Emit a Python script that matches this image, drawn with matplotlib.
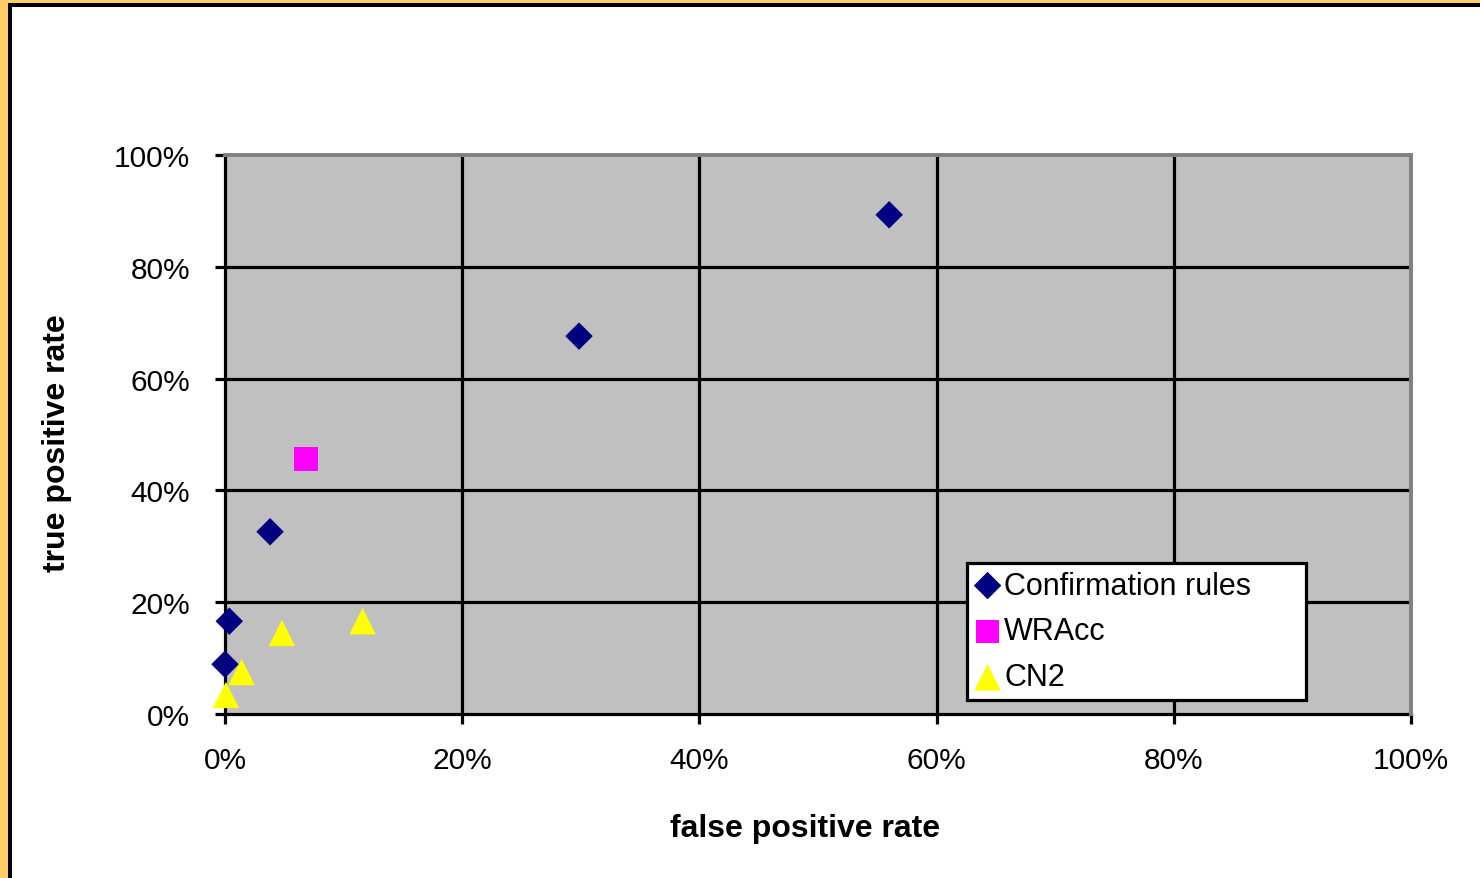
import matplotlib
matplotlib.use("Agg")
import matplotlib.pyplot as plt
from matplotlib.patches import Rectangle
from matplotlib.ticker import FuncFormatter

plt.rcParams['font.family'] = ['Liberation Sans', 'DejaVu Sans']

# Data (percent)
conf_fpr = [56.0, 29.85, 3.8, 0.36, 0.0]
conf_tpr = [89.3, 67.6, 32.6, 16.6, 8.9]
wracc_fpr = [6.85]
wracc_tpr = [45.6]
cn2_fpr = [0.08, 1.4, 4.8, 11.6]
cn2_tpr = [3.4, 7.5, 14.5, 16.6]
ticks = [0, 20, 40, 60, 80, 100]

W, H = 1480, 879
fig = plt.figure(figsize=(W / 100, H / 100), dpi=100)
fig.patch.set_facecolor('white')

# frame decorations (orange + black border on top and left)
fig.add_artist(Rectangle((0, 1 - 4 / H), 1, 4 / H, transform=fig.transFigure,
                         facecolor='#FFCC66', edgecolor='none', zorder=0))
fig.add_artist(Rectangle((0, 0), 8 / W, 1, transform=fig.transFigure,
                         facecolor='#FFCC66', edgecolor='none', zorder=0))
fig.add_artist(Rectangle((8 / W, 1 - 8 / H), 1, 4 / H, transform=fig.transFigure,
                         facecolor='black', edgecolor='none', zorder=0))
fig.add_artist(Rectangle((8 / W, 0), 4 / W, 1 - 4 / H, transform=fig.transFigure,
                         facecolor='black', edgecolor='none', zorder=0))

left, right = 225 / W, 1411 / W
bottom, top = (H - 715) / H, (H - 156) / H
ax = fig.add_axes([left, bottom, right - left, top - bottom])
ax.set_facecolor('#C0C0C0')

ax.set_xlim(0, 100)
ax.set_ylim(0, 100)
ax.set_xticks(ticks)
ax.set_yticks(ticks)
fmt = FuncFormatter(lambda v, p: f"{int(v)}%")
ax.xaxis.set_major_formatter(fmt)
ax.yaxis.set_major_formatter(fmt)

for t in ticks[1:-1]:
    ax.axvline(t, color='black', lw=2.3, zorder=1)
    ax.axhline(t, color='black', lw=2.3, zorder=1)

for s in ['left', 'bottom']:
    ax.spines[s].set_color('black')
    ax.spines[s].set_linewidth(2.3)
for s in ['top', 'right']:
    ax.spines[s].set_color('#808080')
    ax.spines[s].set_linewidth(2.8)
ax.spines['left'].set_zorder(2)
ax.spines['bottom'].set_zorder(2)

ax.tick_params(axis='both', direction='out', length=7, width=2.3, colors='black',
               labelsize=21.5)
ax.tick_params(axis='x', pad=16)
ax.tick_params(axis='y', pad=18)

ax.scatter(conf_fpr, conf_tpr, marker='D', s=14 ** 2, color='#000080',
           edgecolors='none', label='Confirmation rules', zorder=5, clip_on=False)
ax.scatter(wracc_fpr, wracc_tpr, marker='s', s=17 ** 2, color='#FF00FF',
           edgecolors='none', label='WRAcc', zorder=5, clip_on=False)
ax.scatter(cn2_fpr, cn2_tpr, marker='^', s=19 ** 2, color='#FFFF00',
           edgecolors='none', label='CN2', zorder=6, clip_on=False)

ax.set_xlabel('false positive rate', fontsize=23, fontweight='bold', labelpad=28,
              x=0.489)
ax.set_ylabel('true positive rate', fontsize=23, fontweight='bold', labelpad=30,
              y=0.4866)

leg = ax.legend(loc='lower left', bbox_to_anchor=(0.6256, 0.025, 0.286, 0.249),
                mode='expand', borderaxespad=0, fontsize=22, frameon=True,
                fancybox=False, framealpha=1, edgecolor='black',
                handletextpad=0.12, handlelength=0.85, labelspacing=0.52,
                borderpad=0.25, handleheight=0.7)
leg.get_frame().set_linewidth(2.3)
leg.set_zorder(10)

fig.savefig('out.png', dpi=100)
